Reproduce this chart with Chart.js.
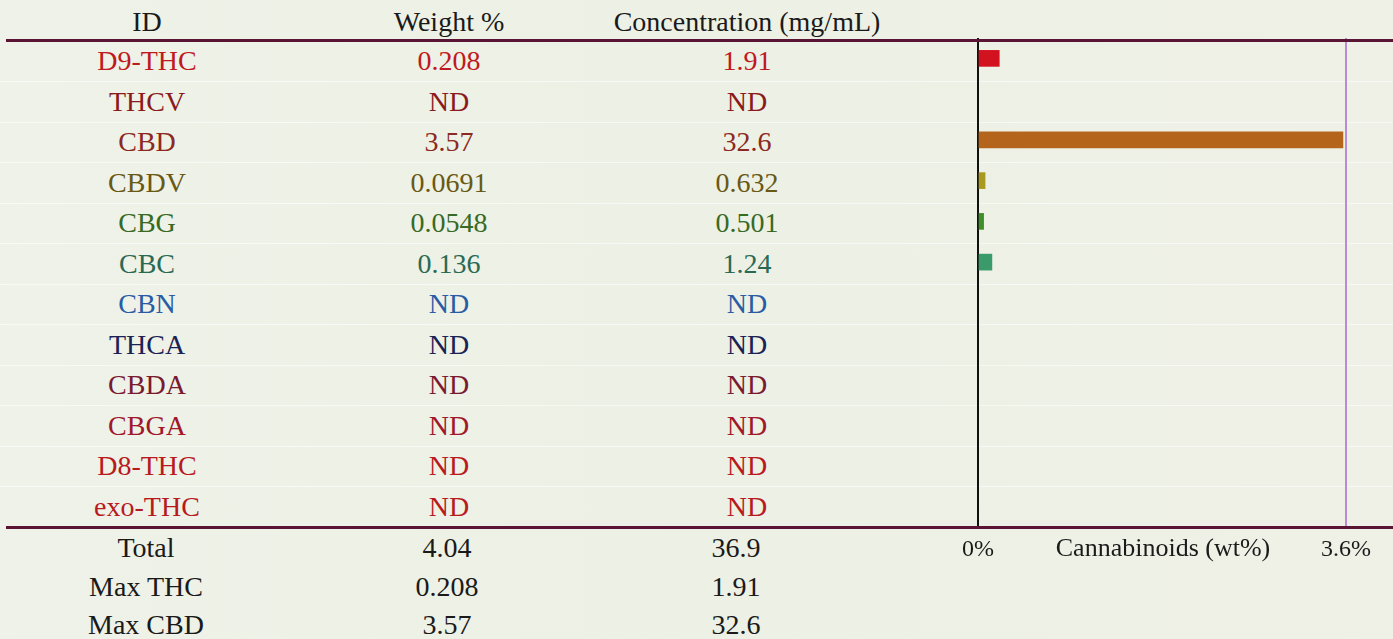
<!DOCTYPE html>
<html>
<head>
<meta charset="utf-8">
<script src="https://cdn.jsdelivr.net/npm/chart.js@4/dist/chart.umd.min.js"></script>
<style>
  body { margin: 0; background: #eef1e6; }
  #wrap { position: relative; width: 1393px; height: 639px; overflow: hidden;
          background: linear-gradient(90deg, #eff2e8 0%, #edf0e4 50%, #eff1e7 100%);
          font-family: "Liberation Serif", "Times New Roman", serif; }
  .t { position: absolute; text-align: center; font-size: 28px; line-height: 32px; white-space: nowrap; }
  .small { font-size: 26px; }
  .rule { position: absolute; left: 6px; right: 0; height: 3px; background: #5a1434; }
  .sep { position: absolute; left: 0; right: 0; height: 1px; background: rgba(255,255,255,0.55); }
  #chartBox { position: absolute; left: 948px; top: 38px; }
</style>
</head>
<body>
<div id="wrap">
  <div id="chartBox"><canvas id="bars" width="445" height="529"></canvas></div>
</div>
<script>
// table data ===========
const ids = ["D9-THC", "THCV", "CBD", "CBDV", "CBG", "CBC", "CBN", "THCA", "CBDA", "CBGA", "D8-THC", "exo-THC"];
const weightPct = [0.208, null, 3.57, 0.0691, 0.0548, 0.136, null, null, null, null, null, null];
const concMgMl = [1.91, null, 32.6, 0.632, 0.501, 1.24, null, null, null, null, null, null];
const textColors = ["#bf1a20", "#8a1a1c", "#8c2a22", "#6a5914", "#386a24", "#2a6a55", "#2a5ca6", "#1a2256", "#7a1a30", "#a0182a", "#b81a1e", "#b81a1e"];
const barColors = ["#d3121f", "#8a1a1c", "#b5641c", "#a89a20", "#3f8f2a", "#3a9a6a", "#2a5ca6", "#1a2256", "#7a1a30", "#a0182a", "#b81a1e", "#b81a1e"];

const totalLabels = ["Total", "Max THC", "Max CBD"];
const totalWeight = [4.04, 0.208, 3.57];
const totalConc = [36.9, 1.91, 32.6];

const headers = ["ID", "Weight %", "Concentration (mg/mL)"];
const xTicks = [0, 3.6];
const xTitle = "Cannabinoids (wt%)";

// layout ===========
const colX = [147, 449, 747];
const totX = [146, 447, 736];
const wrap = document.getElementById("wrap");

function addText(txt, cx, cy, color, cls) {
  const d = document.createElement("div");
  d.className = "t" + (cls ? " " + cls : "");
  d.textContent = txt;
  d.style.left = (cx - 200) + "px";
  d.style.width = "400px";
  d.style.top = (cy - 16) + "px";
  d.style.color = color;
  wrap.appendChild(d);
}
function addLine(cls, y) {
  const d = document.createElement("div");
  d.className = cls;
  d.style.top = y + "px";
  wrap.insertBefore(d, wrap.firstChild);
}

headers.forEach((h, i) => addText(h, colX[i], 22, "#1a1a1a"));

ids.forEach((id, i) => {
  const y = 61 + 40.5 * i;
  addText(id, colX[0], y, textColors[i]);
  addText(weightPct[i] === null ? "ND" : String(weightPct[i]), colX[1], y, textColors[i]);
  addText(concMgMl[i] === null ? "ND" : String(concMgMl[i]), colX[2], y, textColors[i]);
  if (i < ids.length - 1) addLine("sep", Math.round(y + 20));
});

totalLabels.forEach((lab, i) => {
  const y = 548 + 38.5 * i;
  addText(lab, totX[0], y, "#1a1a1a");
  addText(String(totalWeight[i]), totX[1], y, "#1a1a1a");
  addText(String(totalConc[i]), totX[2], y, "#1a1a1a");
});

addText(xTitle, 1163, 548, "#1a1a1a", "small");

// rules on top of the chart
[39, 526].forEach((y) => {
  const d = document.createElement("div");
  d.className = "rule";
  d.style.top = y + "px";
  wrap.appendChild(d);
});

// chart ===========
const ctx = document.getElementById("bars").getContext("2d");
const bars = new Chart(ctx, {
  type: "bar",
  data: {
    labels: ids,
    datasets: [
      {
        data: weightPct,
        backgroundColor: barColors,
        barThickness: 16,
      },
    ],
  },
  options: {
    indexAxis: "y",
    responsive: false,
    animation: false,
    layout: { padding: { left: 30, right: 47, top: 0, bottom: 0 } },
    plugins: { legend: { display: false }, tooltip: { enabled: false } },
    scales: {
      x: {
        type: "linear",
        min: 0,
        max: 3.6,
        afterBuildTicks: (s) => { s.ticks = xTicks.map((v) => ({ value: v })); },
        afterFit: (s) => { s.height = 40; },
        grid: {
          color: (c) => (c.tick && c.tick.value === 3.6 ? "#b98ad8" : "rgba(0,0,0,0)"),
          lineWidth: 2,
          drawTicks: false,
        },
        border: { display: false },
        ticks: {
          autoSkip: false,
          maxRotation: 0,
          padding: 8,
          color: "#1a1a1a",
          font: { family: "Liberation Serif", size: 24 },
          callback: (v) => v + "%",
        },
      },
      y: {
        ticks: { display: false },
        grid: { display: false },
        border: { color: "#111111", width: 2 },
        afterFit: (s) => { s.width = 0; },
      },
    },
  },
});
</script>
</body>
</html>
